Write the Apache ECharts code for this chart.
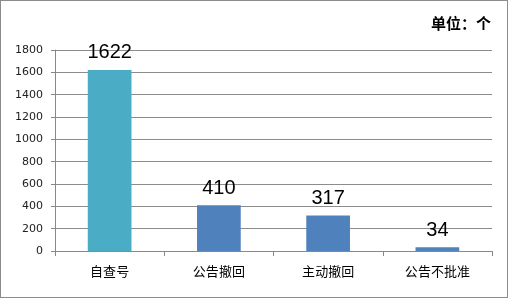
<!DOCTYPE html>
<html><head><meta charset="utf-8">
<script src="https://cdn.jsdelivr.net/npm/echarts@6/dist/echarts.min.js"></script>
<style>html,body{margin:0;padding:0;background:#fff}#c{width:508px;height:298px;box-sizing:border-box;border:1px solid #8c8c8c}</style>
</head><body><div id="c"></div>
<script>
const categories = ['自查号', '公告撤回', '主动撤回', '公告不批准'];
const values = [1622, 410, 317, 34];
const barColors = ['#4BACC6', '#4F81BD', '#4F81BD', '#4F81BD'];
const unitText = '单位：个';

const chart = echarts.init(document.getElementById('c'), null, {renderer: 'canvas'});
chart.setOption({
  animation: false,
  title: {
    text: unitText, right: 11, top: 10,
    textStyle: {fontFamily: 'Noto Sans CJK SC', fontWeight: 'bold', fontSize: 15, color: '#000'}
  },
  grid: {left: 54, right: 15, top: 49, bottom: 46},
  xAxis: {
    type: 'category', data: categories,
    axisLine: {lineStyle: {color: '#888'}},
    axisTick: {show: true, length: 5, lineStyle: {color: '#888'}},
    axisLabel: {color: '#000', fontSize: 13, margin: 14, fontFamily: 'Noto Sans CJK SC'}
  },
  yAxis: {
    type: 'value', min: 0, max: 1800, interval: 200,
    axisLine: {show: true, lineStyle: {color: '#888'}},
    axisTick: {show: true, length: 4, lineStyle: {color: '#888'}},
    axisLabel: {color: '#222', fontSize: 11, margin: 12, fontFamily: 'DejaVu Sans', formatter: v => String(v)},
    splitLine: {lineStyle: {color: '#8c8c8c'}}
  },
  series: [{
    type: 'bar', barWidth: '40%',
    data: values.map((v, i) => ({value: v, itemStyle: {color: barColors[i]}})),
    label: {show: true, position: 'top', distance: 7, color: '#000', fontSize: 20, fontFamily: 'Liberation Sans'}
  }]
});
</script></body></html>
